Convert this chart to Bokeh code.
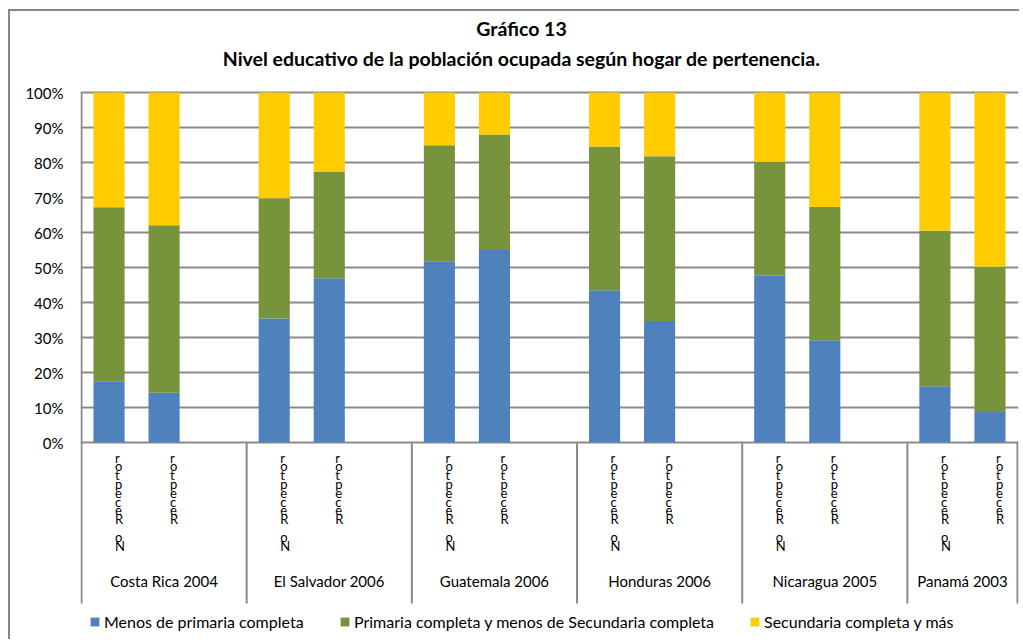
from bokeh.plotting import figure
from bokeh.models import Range1d, FixedTicker, Legend, LegendItem, ColumnDataSource
from bokeh.core.properties import value
from bokeh.embed import file_html
from bokeh.resources import INLINE

# ---------------- data ----------------
title_lines = ["Gráfico 13",
               "Nivel educativo de la población ocupada según hogar de pertenencia."]
countries = ["Costa Rica 2004", "El Salvador 2006", "Guatemala 2006",
             "Honduras 2006", "Nicaragua 2005", "Panamá 2003"]
group_slots = [3, 3, 3, 3, 3, 2]
hogares = ["No Receptor", "Receptor"]
series_names = ["Menos de primaria completa",
                "Primaria completa y menos de Secundaria completa",
                "Secundaria completa y más"]
# percentages, order: country by country, No Receptor then Receptor
menos_primaria = [17.5, 14.2, 35.4, 46.9, 51.8, 55.0, 43.5, 34.7, 47.8, 29.2, 16.1, 8.7]
primaria = [49.7, 47.9, 34.4, 30.5, 33.1, 33.0, 41.1, 47.1, 32.4, 38.1, 44.4, 41.5]
secundaria = [32.8, 37.9, 30.2, 22.6, 15.1, 12.0, 15.4, 18.2, 19.8, 32.7, 39.5, 49.8]
y_ticks = [0, 10, 20, 30, 40, 50, 60, 70, 80, 90, 100]
y_tick_labels = ["0%", "10%", "20%", "30%", "40%", "50%", "60%", "70%", "80%", "90%", "100%"]

# ---------------- layout / style (page pixels) ----------------
colors = ["#4F81BD", "#77933C", "#FFCC00"]
grid_color = "#8A8A8A"
border_color = "#878787"
FONT = "Lato"
OX, OY = 10, 11                  # canvas origin on the page (after css margin + border)
W, H = 1011, 630
FRAME_L, FRAME_R = 80, 1018      # page px
ZERO_Y = 442                     # page px of 0 %
ppu = 3.5                        # px per percent unit

bounds = [0]
xs, stack_text, group_centers = [], [], []
for n in group_slots:
    start = bounds[-1]
    for j, h in enumerate(hogares):
        xs.append(start + j + 0.5)
        stack_text.append("\n".join(reversed(h)))
    bounds.append(start + n)
for i in range(len(countries)):
    group_centers.append((bounds[i] + bounds[i + 1]) / 2)

total = bounds[-1]
px = (FRAME_R - FRAME_L - 2) / total      # px per slot
pad = 1.0 / px


def data_x(page_x):
    return (page_x - FRAME_L - 1) / px


def data_y(page_y):
    return (ZERO_Y - page_y) / ppu


p = figure(width=W, height=H, output_backend="svg", toolbar_location=None,
           x_range=Range1d(-pad, total + pad),
           y_range=Range1d(data_y(OY + H), data_y(OY)),
           x_axis_type=None, title=None,
           min_border_left=FRAME_L - OX, min_border_right=OX + W - FRAME_R,
           min_border_top=0, min_border_bottom=0)
p.styles = {"margin-left": "8px", "margin-top": "9px",
            "border-left": f"2px solid {border_color}",
            "border-top": f"2px solid {border_color}"}
p.outline_line_color = None
p.xgrid.visible = False
p.background_fill_color = "white"
p.border_fill_color = "white"

yax = p.yaxis[0]
yax.ticker = FixedTicker(ticks=y_ticks)
yax.bounds = (0, 100)
yax.major_label_overrides = {t: l for t, l in zip(y_ticks, y_tick_labels)}
yax.axis_line_color = None
yax.major_tick_line_color = None
yax.minor_tick_line_color = None
yax.major_tick_out = 0
yax.major_label_standoff = 17
yax.major_label_text_font = FONT
yax.major_label_text_font_size = "15px"
yax.major_label_text_color = "#000000"

p.ygrid.ticker = FixedTicker(ticks=y_ticks)
p.ygrid.grid_line_color = grid_color
p.ygrid.grid_line_width = 2

src = ColumnDataSource(dict(x=xs, a=menos_primaria, b=primaria, c=secundaria))
rs = p.vbar_stack(["a", "b", "c"], x="x", width=0.565, source=src,
                  color=colors, line_color=None)

# group separators / category axis lines
sep_bottom = data_y(603)
p.segment(x0=bounds, y0=[100 if b == 0 else 0 for b in bounds], x1=bounds,
          y1=[sep_bottom] * len(bounds), line_color=grid_color, line_width=2)

# stacked-letter sub-category labels
p.text(x=xs, y=[0] * len(xs), text=stack_text, x_offset=6, y_offset=7,
       text_font=value(FONT), text_font_size="13px", text_align="left",
       text_baseline="top", text_line_height=0.55, text_color="#000000")

# country labels
p.text(x=group_centers, y=[0] * len(group_centers), text=countries, y_offset=138,
       text_font=value(FONT), text_font_size="15px", text_align="center",
       text_baseline="middle", text_color="#000000")

# title (two centred lines)
p.text(x=[data_x(521)] * 2, y=[data_y(28), data_y(58)], text=title_lines,
       text_font=value(FONT), text_font_size="19.5px", text_font_style="bold",
       text_align="center", text_baseline="middle", text_color="#000000")

# legend: three single-item legends
leg_x = [9, 259, 669]
for r, name, lx in zip(rs, series_names, leg_x):
    lg = Legend(items=[LegendItem(label=name, renderers=[r])], location=(lx, 10),
                orientation="horizontal", padding=0, margin=0, spacing=0,
                glyph_width=11, glyph_height=11, label_height=11, label_standoff=4,
                label_text_font=FONT, label_text_font_size="16px",
                label_text_color="#000000", border_line_color=None,
                background_fill_alpha=0)
    p.add_layout(lg)

open("out.html", "w").write(file_html(p, INLINE))
